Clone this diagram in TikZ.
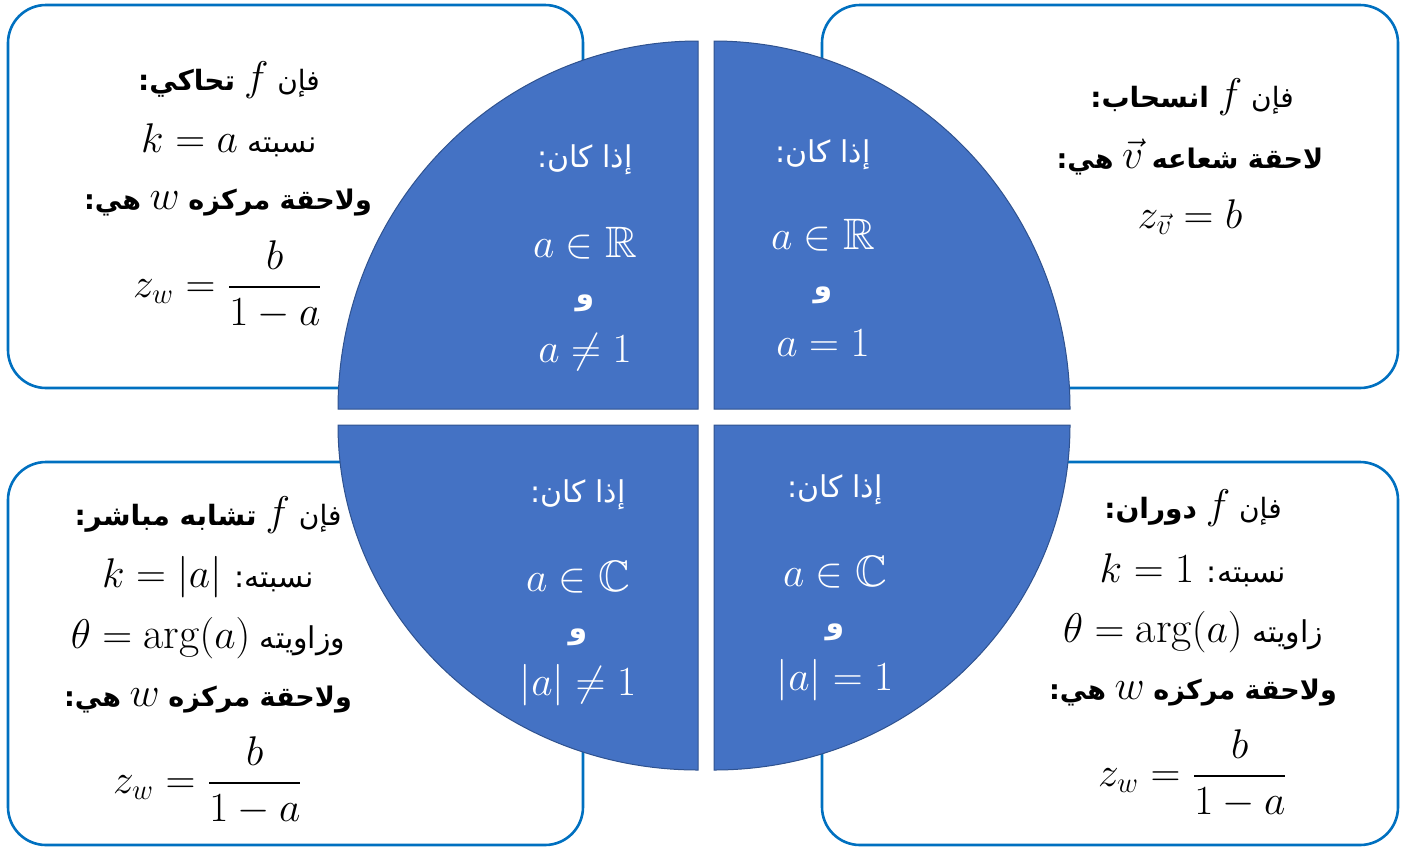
\documentclass[tikz,border=0pt]{standalone}
\usepackage{amsmath,amssymb}
\usepackage{fontspec}
\TeXXeTstate=1
\newfontfamily\arabicfont[Script=Arabic]{DejaVu Sans}
\definecolor{boxblue}{HTML}{0070C0}
\definecolor{pieblue}{HTML}{4472C4}
\definecolor{pieedge}{HTML}{2F528F}
\newcommand{\AR}[1]{{\arabicfont\beginR #1\endR}}
\newcommand{\M}[1]{\hbox{\fontsize{22}{26}\selectfont$#1$}}
\begin{document}
\begin{tikzpicture}[x=0.5pt,y=-0.5pt,
  box/.style={draw=boxblue,line width=1.3pt,rounded corners=19pt,fill=white},
  piece/.style={fill=pieblue,draw=pieedge,line width=0.5pt},
  txt/.style={inner sep=0pt,anchor=center,font=\fontsize{22}{26}\selectfont},
  artxt/.style={inner sep=0pt,anchor=center,font=\fontsize{15}{19}\selectfont},
  hartxt/.style={inner sep=0pt,anchor=center,font=\fontsize{14}{18}\selectfont},
  bartxt/.style={inner sep=0pt,anchor=center,font=\fontsize{13.5}{17}\selectfont},
  wtxt/.style={txt,text=white},
  wartxt/.style={artxt,text=white}]
\useasboundingbox (0,0) rectangle (1407,847);
% corner boxes
\draw[box] (8,5) rectangle (583,388);
\draw[box] (822,5) rectangle (1398,388);
\draw[box] (8,462) rectangle (583,845);
\draw[box] (822,462) rectangle (1398,845);
% circle quarters
\draw[piece] (698,409) -- (338,409) arc[start angle=180,end angle=270,x radius=360,y radius=368] -- cycle;
\draw[piece] (714,409) -- (714,41) arc[start angle=270,end angle=360,x radius=356,y radius=368] -- cycle;
\draw[piece] (698,425) -- (338,425) arc[start angle=180,end angle=90,x radius=360,y radius=345] -- cycle;
\draw[piece] (714,425) -- (1070,425) arc[start angle=0,end angle=90,x radius=356,y radius=345] -- cycle;
% top-left box
\node[hartxt] (tl1) at (229,80) {\AR{فإن \M{f} {\bfseries تحاكي:}}};
\node[artxt] (tl2) at (229,140) {\AR{نسبته \M{k=a}}};
\node[bartxt] (tl3) at (228,203) {\AR{{\bfseries ولاحقة مركزه} \M{w} {\bfseries هي:}}};
\node[txt] (tl4) at (228,285) {$z_w=\dfrac{b}{1-a}$};
% top-right box
\node[hartxt] (tr1) at (1192,97) {\AR{فإن \M{f} {\bfseries انسحاب:}}};
\node[bartxt] (tr2) at (1190,157) {\AR{{\bfseries لاحقة شعاعه} \M{\vec{v}} {\bfseries هي:}}};
\node[txt] (tr3) at (1190,217) {$z_{\vec{v}}=b$};
% bottom-left box
\node[hartxt] (bl1) at (208,515) {\AR{فإن \M{f} {\bfseries تشابه مباشر:}}};
\node[artxt] (bl2) at (208,577) {\AR{نسبته: \M{k=|a|}}};
\node[artxt] (bl3) at (208,638) {\AR{وزاويته \M{\theta=\arg(a)}}};
\node[bartxt] (bl4) at (208,700) {\AR{{\bfseries ولاحقة مركزه} \M{w} {\bfseries هي:}}};
\node[txt] (bl5) at (208,781) {$z_w=\dfrac{b}{1-a}$};
% bottom-right box
\node[hartxt] (br1) at (1193,508) {\AR{فإن \M{f} {\bfseries دوران:}}};
\node[artxt] (br2) at (1193,570) {\AR{نسبته: \M{k=1}}};
\node[artxt] (br3) at (1193,632) {\AR{زاويته \M{\theta=\arg(a)}}};
\node[bartxt] (br4) at (1193,693) {\AR{{\bfseries ولاحقة مركزه} \M{w} {\bfseries هي:}}};
\node[txt] (br5) at (1193,774) {$z_w=\dfrac{b}{1-a}$};
% circle texts
\node[wartxt] (c1a) at (585,160) {\AR{إذا كان:}};
\node[wtxt] (c1b) at (585,243) {$a\in\mathbb{R}$};
\node[wartxt] (c1c) at (585,303) {\AR{\bfseries و}};
\node[wtxt] (c1d) at (585,352) {$a\neq1$};
\node[wartxt] (c2a) at (823,155) {\AR{إذا كان:}};
\node[wtxt] (c2b) at (823,235) {$a\in\mathbb{R}$};
\node[wartxt] (c2c) at (823,295) {\AR{\bfseries و}};
\node[wtxt] (c2d) at (823,343) {$a=1$};
\node[wartxt] (c3a) at (578,495) {\AR{إذا كان:}};
\node[wtxt] (c3b) at (578,577) {$a\in\mathbb{C}$};
\node[wartxt] (c3c) at (578,637) {\AR{\bfseries و}};
\node[wtxt] (c3d) at (578,685) {$|a|\neq1$};
\node[wartxt] (c4a) at (835,490) {\AR{إذا كان:}};
\node[wtxt] (c4b) at (835,572) {$a\in\mathbb{C}$};
\node[wartxt] (c4c) at (835,632) {\AR{\bfseries و}};
\node[wtxt] (c4d) at (835,680) {$|a|=1$};
\end{tikzpicture}
\end{document}
